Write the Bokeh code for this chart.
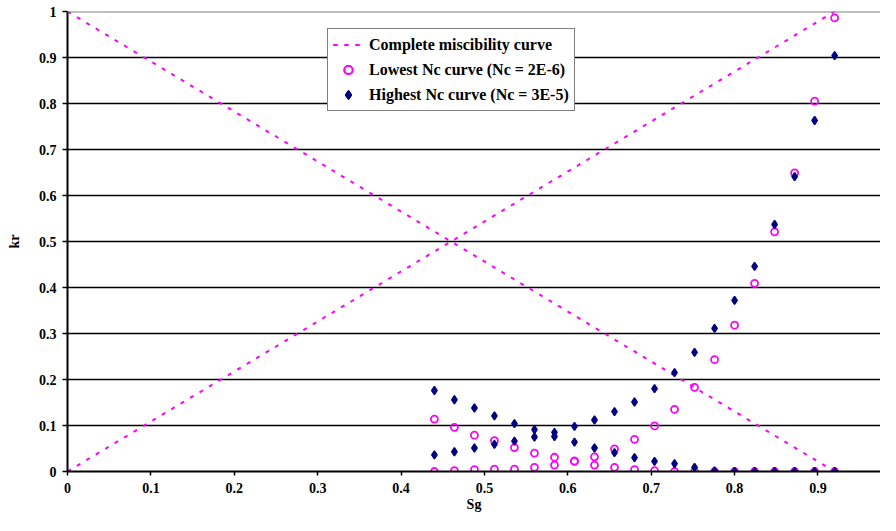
from bokeh.plotting import figure
from bokeh.models import Range1d, FixedTicker, NumeralTickFormatter, Span, Legend
from bokeh.embed import file_html
from bokeh.resources import INLINE

# ---- data ----
sg = [0.44, 0.464, 0.488, 0.512, 0.536, 0.56, 0.584, 0.608, 0.632, 0.656, 0.68,
      0.704, 0.728, 0.752, 0.776, 0.8, 0.824, 0.848, 0.872, 0.896, 0.92]

low_krg = [0.000, 0.002, 0.004, 0.005, 0.005, 0.009, 0.014, 0.023, 0.032, 0.049, 0.070,
           0.099, 0.135, 0.183, 0.243, 0.318, 0.409, 0.521, 0.649, 0.805, 0.986]
low_kro = [0.114, 0.096, 0.079, 0.067, 0.052, 0.040, 0.031, 0.022, 0.014, 0.009, 0.004,
           0.002, 0.0, 0.0, 0.0, 0.0, 0.0, 0.0, 0.0, 0.0, 0.0]

high_krg = [0.036, 0.043, 0.051, 0.059, 0.066, 0.075, 0.085, 0.098, 0.112, 0.130, 0.151,
            0.180, 0.215, 0.259, 0.311, 0.372, 0.446, 0.537, 0.641, 0.763, 0.904]
high_kro = [0.176, 0.156, 0.138, 0.121, 0.104, 0.091, 0.076, 0.064, 0.051, 0.041, 0.030,
            0.022, 0.017, 0.009, 0.001, 0.0, 0.0, 0.0, 0.0, 0.0, 0.0]

mis_sg = [0.0, 0.92]
mis_krg = [0.0, 1.0]
mis_kro = [1.0, 0.0]

x_ticks = [0, 0.1, 0.2, 0.3, 0.4, 0.5, 0.6, 0.7, 0.8, 0.9]
y_ticks = [0, 0.1, 0.2, 0.3, 0.4, 0.5, 0.6, 0.7, 0.8, 0.9, 1]

FONT = "Liberation Serif"
MAG = "#FF00FF"
NAVY = "#000080"

p = figure(width=880, height=515, output_backend="svg", toolbar_location=None,
           x_range=Range1d(0, 0.975), y_range=Range1d(0, 1),
           min_border_left=67, min_border_right=0, min_border_top=11, min_border_bottom=44)
p.outline_line_color = None
p.background_fill_color = "white"
p.border_fill_color = "white"

# grid
p.xgrid.visible = False
p.ygrid.ticker = FixedTicker(ticks=y_ticks[1:-1])
p.ygrid.grid_line_color = "black"
p.ygrid.grid_line_width = 1.5
p.add_layout(Span(location=y_ticks[-1], dimension="width", line_color="#808080", line_width=2))

# axes
for ax, ticks in ((p.xaxis, x_ticks), (p.yaxis, y_ticks)):
    ax.ticker = FixedTicker(ticks=ticks)
    ax.formatter = NumeralTickFormatter(format="0.[0]")
    ax.minor_tick_line_color = None
    ax.axis_line_color = "black"
    ax.axis_line_width = 2
    ax.major_tick_line_color = "black"
    ax.major_tick_line_width = 1.5
    ax.major_tick_in = 0
    ax.major_label_text_font = FONT
    ax.major_label_text_font_style = "bold"
    ax.major_label_text_font_size = "14px"
    ax.major_label_text_color = "black"
    ax.axis_label_text_font = FONT
    ax.axis_label_text_font_style = "bold"
    ax.axis_label_text_font_size = "14px"
    ax.axis_label_text_color = "black"

p.xaxis.major_tick_out = 4
p.xaxis.major_label_standoff = 7
p.xaxis.axis_label = "Sg"
p.xaxis.axis_label_standoff = 1
p.yaxis.major_tick_out = 5
p.yaxis.major_label_standoff = 6
p.yaxis.axis_label = "kr"
p.yaxis.axis_label_standoff = 14

# miscibility curves
l1 = p.line(mis_sg, mis_krg, line_color=MAG, line_width=2, line_dash="4 7")
l2 = p.line(mis_sg, mis_kro, line_color=MAG, line_width=2, line_dash="4 7")

# lowest Nc
c1 = p.scatter(sg, low_krg, marker="circle", size=7, fill_color=None,
               line_color=MAG, line_width=1.8)
c2 = p.scatter(sg, low_kro, marker="circle", size=7, fill_color=None,
               line_color=MAG, line_width=1.8)

# highest Nc
d1 = p.scatter(sg, high_krg, marker="diamond", size=8, fill_color=NAVY,
               line_color=NAVY, line_width=1.5)
d2 = p.scatter(sg, high_kro, marker="diamond", size=8, fill_color=NAVY,
               line_color=NAVY, line_width=1.5)

legend = Legend(items=[("Complete miscibility curve", [l1, l2]),
                       ("Lowest Nc curve (Nc = 2E-6)", [c1, c2]),
                       ("Highest Nc curve (Nc = 3E-5)", [d1, d2])],
                location=(260, 360))
legend.label_text_font = FONT
legend.label_text_font_style = "bold"
legend.label_text_font_size = "16px"
legend.label_text_color = "black"
legend.label_height = 21
legend.glyph_height = 21
legend.glyph_width = 30
legend.label_standoff = 6
legend.padding = 5
legend.spacing = 4
legend.margin = 0
legend.border_line_color = "black"
legend.border_line_width = 1
legend.background_fill_color = "white"
legend.background_fill_alpha = 1
p.add_layout(legend)

open("out.html", "w").write(file_html(p, INLINE))
